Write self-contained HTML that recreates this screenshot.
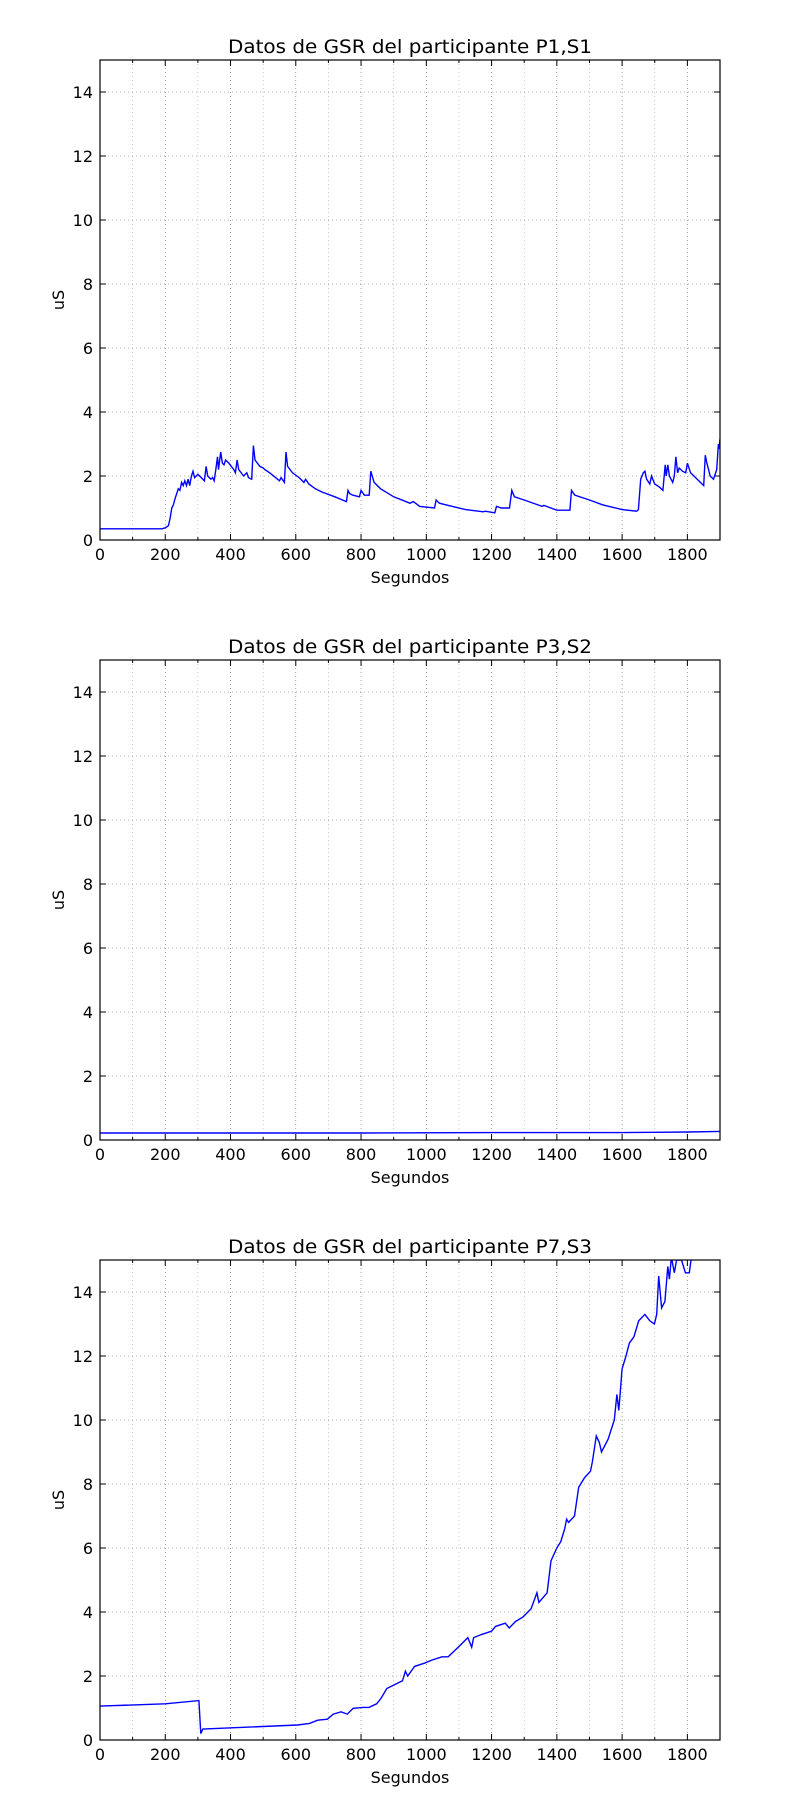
<!DOCTYPE html>
<html><head><meta charset="utf-8"><style>
body{margin:0;background:#fff}
svg{display:block;font-family:"DejaVu Sans","Liberation Sans",sans-serif}
</style></head><body>
<svg id="fig" width="800" height="1800" viewBox="0 0 800 1800" xmlns="http://www.w3.org/2000/svg"></svg>
<script>
const xTicks = [0,200,400,600,800,1000,1200,1400,1600,1800];
const yTicks = [0,2,4,6,8,10,12,14];
const titles = ["Datos de GSR del participante P1,S1","Datos de GSR del participante P3,S2","Datos de GSR del participante P7,S3"];
const s1x = [0,190,200,210,215,220,225,230,240,245,250,255,260,265,270,275,280,285,290,300,310,320,325,330,340,345,350,355,360,363,370,375,380,385,395,410,415,420,425,440,450,455,465,470,475,490,500,505,520,550,555,565,570,575,590,610,620,625,630,640,660,680,720,755,760,765,775,795,800,810,825,830,840,860,900,950,960,980,1025,1030,1040,1080,1120,1175,1180,1210,1215,1230,1255,1262,1270,1300,1355,1360,1400,1440,1445,1455,1500,1540,1560,1600,1645,1650,1657,1665,1670,1675,1685,1690,1700,1715,1725,1732,1735,1740,1745,1755,1760,1765,1770,1775,1785,1795,1800,1810,1840,1850,1855,1860,1870,1880,1890,1895,1897,1900];
const s1y = [0.35,0.35,0.38,0.45,0.7,1.0,1.1,1.3,1.6,1.55,1.8,1.7,1.85,1.7,1.9,1.7,2.0,2.15,1.95,2.05,1.95,1.85,2.3,2.0,1.9,1.95,1.85,2.2,2.6,2.2,2.75,2.4,2.35,2.5,2.4,2.2,2.1,2.5,2.2,2.0,2.1,1.95,1.9,2.95,2.5,2.3,2.25,2.2,2.1,1.85,1.95,1.8,2.75,2.3,2.1,1.95,1.85,1.8,1.9,1.75,1.6,1.5,1.35,1.2,1.55,1.45,1.4,1.35,1.55,1.4,1.4,2.15,1.8,1.6,1.35,1.15,1.2,1.05,1.0,1.25,1.15,1.05,0.95,0.88,0.9,0.85,1.05,1.0,1.0,1.55,1.35,1.25,1.05,1.08,0.93,0.93,1.55,1.4,1.25,1.1,1.05,0.95,0.9,0.95,1.9,2.1,2.15,1.9,1.75,2.0,1.75,1.65,1.55,2.35,2.0,2.35,2.0,1.8,2.0,2.6,2.1,2.25,2.15,2.1,2.4,2.1,1.8,1.7,2.65,2.4,2.0,1.9,2.2,3.0,2.85,3.15];
const s2x = [0,400,800,1200,1400,1600,1700,1800,1900];
const s2y = [0.22,0.22,0.22,0.23,0.23,0.23,0.24,0.25,0.27];
const s3x = [0,200,303,309,315,606,642,667,697,715,739,758,776,806,824,848,861,879,927,936,943,964,994,1018,1048,1067,1103,1127,1139,1145,1170,1200,1212,1242,1254,1273,1297,1321,1339,1345,1370,1382,1400,1412,1424,1430,1436,1454,1467,1485,1503,1509,1521,1530,1537,1557,1576,1584,1590,1600,1612,1622,1636,1651,1670,1685,1699,1706,1712,1721,1731,1740,1745,1751,1760,1767,1782,1794,1806,1814];
const s3y = [1.06,1.13,1.23,0.2,0.34,0.47,0.52,0.62,0.65,0.81,0.88,0.81,0.99,1.02,1.02,1.13,1.3,1.61,1.85,2.15,2.0,2.3,2.4,2.5,2.6,2.6,2.95,3.2,2.9,3.2,3.3,3.4,3.55,3.65,3.5,3.7,3.85,4.1,4.6,4.3,4.6,5.6,6.0,6.2,6.6,6.9,6.8,7.0,7.9,8.2,8.4,8.7,9.5,9.3,9.0,9.4,10.0,10.8,10.3,11.6,12.0,12.4,12.6,13.1,13.3,13.1,13.0,13.3,14.5,13.5,13.7,14.8,14.4,15.1,14.6,15.0,15.0,14.6,14.6,15.2];
const seriesX = [s1x,s2x,s3x], seriesY = [s1y,s2y,s3y];
const NS="http://www.w3.org/2000/svg", svg=document.getElementById('fig');
function mk(t,a,p){const e=document.createElementNS(NS,t);for(const k in a)e.setAttribute(k,a[k]);(p||svg).appendChild(e);return e;}
const L=100,R=720,H=480,XMAX=1900,YMAX=15;
for(let c=0;c<3;c++){
  const T=60+c*600,B=T+H;
  const xs=v=>L+v/XMAX*(R-L), ys=v=>B-v/YMAX*H;
  const g=mk('g',{});
  
  
  const clip=mk('clipPath',{id:'c'+c},g);mk('rect',{x:L,y:T,width:R-L,height:H},clip);
  for(let v=100;v<XMAX;v+=100){
    const l=mk('line',{x1:xs(v),x2:xs(v),y1:T,y2:B,stroke:'#000','stroke-width':0.6,'stroke-dasharray':'1,3',opacity:v%200?0.35:0.6},g);
    
    
    const len=v%200?3:6;
    mk('line',{x1:xs(v),x2:xs(v),y1:B,y2:B-len,stroke:'#000'},g);
    mk('line',{x1:xs(v),x2:xs(v),y1:T,y2:T+len,stroke:'#000'},g);
  }
  yTicks.forEach(v=>{
    if(v>0){const l=mk('line',{x1:L,x2:R,y1:ys(v),y2:ys(v),stroke:'#000','stroke-width':0.6,'stroke-dasharray':'1,3',opacity:0.6},g);
    
    
    mk('line',{x1:L,x2:L+6,y1:ys(v),y2:ys(v),stroke:'#000'},g);
    mk('line',{x1:R,x2:R-6,y1:ys(v),y2:ys(v),stroke:'#000'},g);}
    const t=mk('text',{x:93,y:ys(v)+6,'text-anchor':'end','font-size':16},g);t.textContent=v;
    
    
  });
  xTicks.forEach(v=>{
    const t=mk('text',{x:xs(v),y:B+20,'text-anchor':'middle','font-size':16},g);t.textContent=v;
    
    
  });
  const xsA=seriesX[c],ysA=seriesY[c];
  const d=xsA.map((v,i)=>(i?'L':'M')+xs(v).toFixed(1)+','+ys(ysA[i]).toFixed(1)).join('');
  const p=mk('path',{d:d,fill:'none',stroke:'#0000ff','stroke-width':1.4,'clip-path':'url(#c'+c+')'},g);
  
  
  const fr=mk('rect',{x:L,y:T,width:R-L,height:H,fill:'none',stroke:'#000','stroke-width':1.2},g);
  
  
  const ti=mk('text',{x:410,y:T-7,'text-anchor':'middle','font-size':19,textLength:364,lengthAdjust:'spacingAndGlyphs'},g);ti.textContent=titles[c];
  
  
  const xl=mk('text',{x:410,y:B+43,'text-anchor':'middle','font-size':16},g);xl.textContent='Segundos';
  
  
  const yl=mk('text',{x:0,y:0,'text-anchor':'middle','font-size':16,transform:'translate(64,'+(T+H/2)+') rotate(-90)'},g);yl.textContent='uS';
  
  
}
</script>
</body></html>
